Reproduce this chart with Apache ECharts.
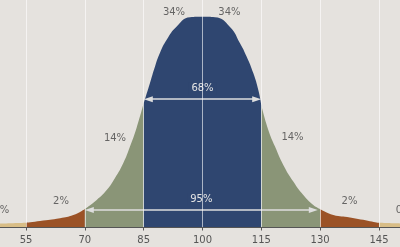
<!DOCTYPE html>
<html><head><meta charset="utf-8">
<script src="https://cdn.jsdelivr.net/npm/echarts@6/dist/echarts.min.js"></script>
<style>html,body{margin:0;padding:0;background:#e5e2de}#c{width:400px;height:247px}</style>
</head><body><div id="c"></div>
<script>
// Curve (x = score, y = height relative to peak = 100)
const curveX = [48.37, 55, 58.57, 63.67, 67.06, 70, 73.02, 75.57, 77.69, 79.81, 81.51, 83.22, 85, 86.61, 87.89, 89.16, 90.87, 93.42, 96.81, 100, 103.19, 107.01, 109.56, 111.27, 112.95, 114.23, 115, 116.78, 118.49, 120.60, 123.15, 125.70, 128.25, 130, 133.35, 137.61, 145, 150.36];
const curveY = [1.9, 2.3, 3.1, 4.4, 5.9, 8.8, 13.1, 17.8, 23.5, 30.6, 38.4, 47.5, 59, 68.6, 76.4, 82.9, 89.1, 95.4, 99.8, 100, 99.8, 95.2, 87.5, 81.1, 73.3, 65.3, 58, 46.3, 38.4, 29.7, 21.8, 15.4, 10.7, 8.8, 5.9, 4.8, 2.2, 1.9];
// Band boundaries (score)
const bandStart = [40, 55, 70, 85, 115, 130, 145];
const bandEnd   = [55, 70, 85, 115, 130, 145, 160];
// Percent labels
const labelText = ['34%', '34%', '14%', '14%', '2%', '2%', '0.1%', '0.1%'];
const labelX    = [92.73, 106.88, 77.69, 122.95, 63.92, 137.48, 47.5, 152.5];
const labelY    = [102.2, 102.2, 42.5, 43, 12.3, 12.3, 8.3, 8.3];
// Arrows
const arrowFrom = [86.18, 71.14];
const arrowTo   = [113.82, 128.25];
const arrowY    = [60.9, 8.31];
const arrowText = ['68%', '95%'];

const bandColors = ['#d8bd86', '#9b5226', '#8a9577', '#2f4670', '#8a9577', '#9b5226', '#d8bd86'];

function seg(a, b) {
  const d = [];
  for (let i = 0; i < curveX.length; i++) {
    if (curveX[i] >= a - 1e-9 && curveX[i] <= b + 1e-9) d.push([curveX[i], curveY[i]]);
  }
  return d;
}

const series = bandStart.map((a, i) => ({
  type: 'line',
  data: seg(a, bandEnd[i]),
  symbol: 'none',
  smooth: 0.5,
  lineStyle: { width: 0 },
  areaStyle: { color: bandColors[i], opacity: 1 },
  z: 2,
  silent: true
}));

series.push({
  type: 'scatter',
  symbolSize: 0,
  clip: false,
  z: 20,
  data: labelX.map((x, i) => ({ value: [x, labelY[i]], name: labelText[i] })),
  label: {
    show: true, position: 'inside', formatter: p => p.name,
    color: '#454545', fontFamily: 'DejaVu Sans', fontSize: 10
  },
  markLine: {
    silent: true,
    symbol: ['triangle', 'triangle'],
    symbolSize: [6, 9],
    lineStyle: { color: '#dedede', width: 1.5, type: 'solid' },
    label: {
      show: true, position: 'middle', formatter: p => p.name,
      color: '#e4e4e4', fontFamily: 'DejaVu Sans', fontSize: 10,
      backgroundColor: '#2f4670', padding: [1, 3]
    },
    data: arrowFrom.map((x, i) => [
      { coord: [x, arrowY[i]], name: arrowText[i] },
      { coord: [arrowTo[i], arrowY[i]] }
    ])
  }
});

const chart = echarts.init(document.getElementById('c'));
chart.setOption({
  animation: false,
  backgroundColor: '#e5e2de',
  grid: { left: -32.8, right: -37.8, top: 0, bottom: 19.5, outerBoundsMode: 'none', containLabel: false },
  xAxis: {
    type: 'value', min: 40, max: 160, interval: 15, z: 10,
    axisLine: { show: true, lineStyle: { color: '#555', width: 1 } },
    axisTick: { show: true, length: 3, lineStyle: { color: '#555' } },
    axisLabel: { color: '#555', fontFamily: 'DejaVu Sans', fontSize: 10, margin: 8 },
    splitLine: { show: true, lineStyle: { color: 'rgba(255,255,255,0.6)', width: 1 } }
  },
  yAxis: { type: 'value', min: 0, max: 108, show: false, splitLine: { show: false } },
  series: series
});
</script>
</body></html>
